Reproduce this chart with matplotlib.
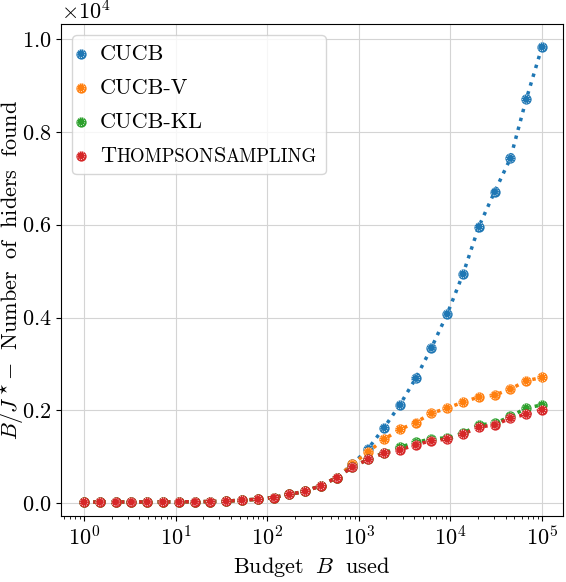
import matplotlib
matplotlib.use('Agg')
import matplotlib.pyplot as plt
from matplotlib.offsetbox import HPacker, TextArea

plt.rcParams.update({
    'font.family': ['cmr10', 'DejaVu Serif'],
    'mathtext.fontset': 'cm',
    'axes.formatter.use_mathtext': True,
    'font.size': 16,
})

# budget values (log-spaced, 30 points from 1 to 1e5)
budget = [1, 1.487, 2.212, 3.290, 4.894, 7.279, 10.83, 16.10, 23.95, 35.62,
          52.98, 78.80, 117.2, 174.3, 259.3, 385.7, 573.7, 853.2, 1269, 1888,
          2807, 4175, 6210, 9237, 13738, 20434, 30392, 45204, 67234, 100000]

low = [25, 28, 28, 29, 30, 31, 32, 35, 38, 45, 71, 86, 125, 190, 260, 380, 555]

cucb = low + [840, 1180, 1630, 2120, 2690, 3350, 4080, 4940, 5960, 6710,
              7430, 8700, 9830]
cucb_v = low + [840, 1110, 1380, 1590, 1740, 1940, 2050, 2180, 2290, 2330,
                2460, 2640, 2710]
cucb_kl = low + [780, 950, 1090, 1210, 1310, 1390, 1410, 1510, 1690, 1720,
                 1870, 2050, 2120]
thompson = low + [780, 950, 1080, 1150, 1260, 1350, 1380, 1490, 1640, 1690,
                  1830, 1920, 2020]

names = ['CUCB', 'CUCB-V', 'CUCB-KL', 'ThompsonSampling']
series = [cucb, cucb_v, cucb_kl, thompson]
colors = ['C0', 'C1', 'C2', 'C3']

fig, ax = plt.subplots(figsize=(5.66, 5.82), dpi=100)
fig.subplots_adjust(left=0.1078, right=0.9942, top=0.9588, bottom=0.1139)

handles = []
for ys, color in zip(series, colors):
    ax.plot(budget, ys, ':', lw=2.5, color=color, zorder=2)
    outer = ax.scatter(budget, ys, s=55, color=color, linewidths=0, zorder=3)
    inner = ax.scatter(budget, ys, s=30, facecolors='none', edgecolors='white',
                       linewidths=0.6, linestyles=':', zorder=3)
    handles.append((outer, inner))

ax.set_xscale('log')
ax.set_xlim(0.561, 168300)
ax.set_ylim(-267, 10323)
ax.set_yticks([0, 2000, 4000, 6000, 8000, 10000])
ax.ticklabel_format(axis='y', style='sci', scilimits=(0, 0))
ax.grid(True, which='major', color='#d4d4d4', lw=0.8)
ax.set_xlabel(r'Budget $\;B\;$ used')
ax.set_ylabel(r'$B/J^\star{-}\;$ Number$\;$ of$\;$ hiders$\;$ found')
ax.yaxis.set_label_coords(-0.07, 0.5)

leg = ax.legend(handles, names, loc='upper left', fontsize=16, handlelength=0,
                handletextpad=0.86, borderpad=0.4, labelspacing=0.65)

# fake small caps for the last label
row = leg._legend_handle_box.get_children()[0].get_children()[3]
parts = [('T', 16), ('HOMPSON', 13.5), ('S', 16), ('AMPLING', 13.5)]
sc = HPacker(children=[TextArea(s, textprops=dict(fontsize=fs))
                       for s, fs in parts],
             align='baseline', pad=0, sep=0)
sc.set_figure(fig)
row.get_children()[1] = sc

fig.savefig('out.png', dpi=100)
